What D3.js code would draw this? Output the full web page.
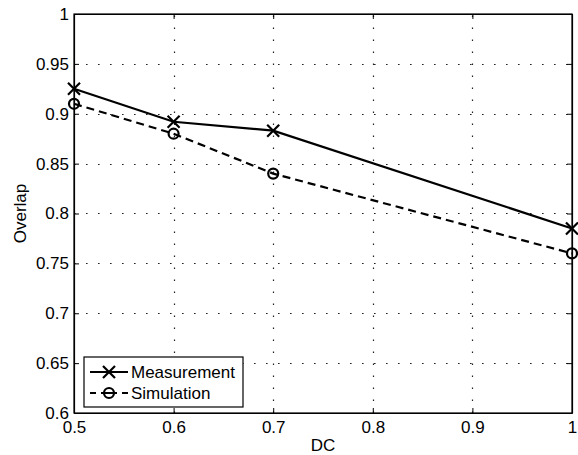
<!DOCTYPE html>
<html><head><meta charset="utf-8">
<script src="https://d3js.org/d3.v7.min.js"></script>
<style>html,body{margin:0;padding:0;background:#fff;}svg{display:block;}</style>
</head><body>
<svg id="chart" width="578" height="455"></svg>
<script>
const dc = [0.5, 0.6, 0.7, 1.0];
const measurement = [0.925, 0.892, 0.883, 0.785];
const simulation = [0.910, 0.880, 0.840, 0.760];
const xTicks = [0.5, 0.6, 0.7, 0.8, 0.9, 1];
const yTicks = [0.6, 0.65, 0.7, 0.75, 0.8, 0.85, 0.9, 0.95, 1];
const seriesNames = ["Measurement", "Simulation"];

const svg = d3.select("#chart");
const L = 74, R = 572, T = 14, B = 413;
const font = "Liberation Sans, Arial, sans-serif";
const fs = 17;
const x = d3.scaleLinear().domain([0.5, 1]).range([L, R]);
const y = d3.scaleLinear().domain([0.6, 1]).range([B, T]);

// grid
const grid = svg.append("g").attr("stroke", "#222").attr("stroke-width", 1.2).attr("stroke-dasharray", "1.6,10.4");
grid.selectAll(".vg").data(xTicks.slice(1, -1)).enter().append("line")
  .attr("x1", d => Math.round(x(d)) + 0.5).attr("x2", d => Math.round(x(d)) + 0.5)
  .attr("y1", B).attr("y2", T);
grid.selectAll(".hg").data(yTicks.slice(1, -1)).enter().append("line")
  .attr("y1", d => Math.round(y(d)) + 0.5).attr("y2", d => Math.round(y(d)) + 0.5)
  .attr("x1", L).attr("x2", R);

// axes with inward ticks
const fmt = d => d3.format("")(d);
const axB = svg.append("g").attr("transform", `translate(0,${B})`)
  .call(d3.axisBottom(x).tickValues(xTicks).tickSizeInner(-5).tickSizeOuter(0).tickPadding(8).tickFormat(fmt));
const axT = svg.append("g").attr("transform", `translate(0,${T})`)
  .call(d3.axisTop(x).tickValues(xTicks).tickSizeInner(-5).tickSizeOuter(0).tickFormat(""));
const axL = svg.append("g").attr("transform", `translate(${L},0)`)
  .call(d3.axisLeft(y).tickValues(yTicks).tickSizeInner(-5).tickSizeOuter(0).tickPadding(5).tickFormat(fmt));
const axR = svg.append("g").attr("transform", `translate(${R},0)`)
  .call(d3.axisRight(y).tickValues(yTicks).tickSizeInner(-5).tickSizeOuter(0).tickFormat(""));
[axB, axT, axL, axR].forEach(a => {
  a.selectAll("path").attr("stroke", "#000").attr("stroke-width", 1.2);
  a.selectAll("line").attr("stroke", "#000").attr("stroke-width", 1);
  a.selectAll("text").attr("font-family", font).attr("font-size", fs).attr("fill", "#000");
});
axB.selectAll("text").attr("dy", "0.71em");

// frame
svg.append("rect").attr("x", L).attr("y", T).attr("width", R - L).attr("height", B - T)
  .attr("fill", "none").attr("stroke", "#000").attr("stroke-width", 1.2);

// labels
svg.append("text").attr("x", (L + R) / 2).attr("y", 451).attr("text-anchor", "middle")
  .attr("font-family", font).attr("font-size", fs).text("DC");
svg.append("text").attr("transform", `translate(26,${(T + B) / 2}) rotate(-90)`).attr("text-anchor", "middle")
  .attr("font-family", font).attr("font-size", fs).text("Overlap");

// lines
const line = d3.line().x(d => x(d[0])).y(d => y(d[1]));
const mData = dc.map((d, i) => [d, measurement[i]]);
const sData = dc.map((d, i) => [d, simulation[i]]);
svg.append("path").datum(mData).attr("d", line).attr("fill", "none").attr("stroke", "#000").attr("stroke-width", 2.2);
svg.append("path").datum(sData).attr("d", line).attr("fill", "none").attr("stroke", "#000").attr("stroke-width", 2.2).attr("stroke-dasharray", "8,5");

function cross(g, cx, cy) {
  const s = 6;
  g.append("path").attr("d", `M${cx - s},${cy - s}L${cx + s},${cy + s}M${cx - s},${cy + s}L${cx + s},${cy - s}`)
    .attr("stroke", "#000").attr("stroke-width", 2.2).attr("fill", "none");
}
function circ(g, cx, cy) {
  g.append("circle").attr("cx", cx).attr("cy", cy).attr("r", 5).attr("fill", "none").attr("stroke", "#000").attr("stroke-width", 2.2);
}
const mk = svg.append("g");
mData.forEach(d => cross(mk, x(d[0]), y(d[1])));
sData.forEach(d => circ(mk, x(d[0]), y(d[1])));

// legend
const lg = svg.append("g");
lg.append("rect").attr("x", 84).attr("y", 357).attr("width", 159).attr("height", 50)
  .attr("fill", "#fff").attr("stroke", "#000").attr("stroke-width", 1.2);
const rows = [372, 393];
lg.append("line").attr("x1", 90).attr("x2", 128).attr("y1", rows[0]).attr("y2", rows[0]).attr("stroke", "#000").attr("stroke-width", 2.2);
cross(lg, 109, rows[0]);
lg.append("line").attr("x1", 90).attr("x2", 128).attr("y1", rows[1]).attr("y2", rows[1]).attr("stroke", "#000").attr("stroke-width", 2.2).attr("stroke-dasharray", "6,5,16,5,6");
circ(lg, 109, rows[1]);
seriesNames.forEach((n, i) => {
  lg.append("text").attr("x", 131).attr("y", rows[i]).attr("dy", "0.36em")
    .attr("font-family", font).attr("font-size", fs).text(n);
});
</script>
</body></html>
